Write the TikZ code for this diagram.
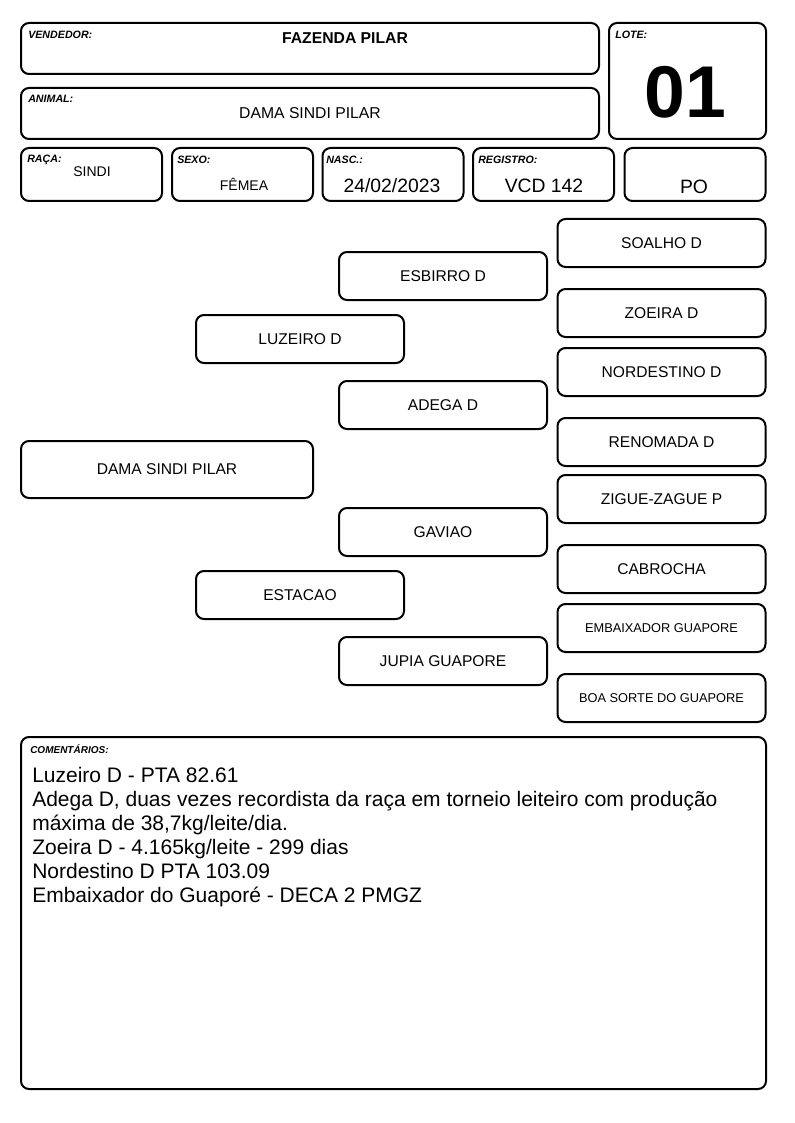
\documentclass[tikz,border=0pt]{standalone}
\usepackage{fontspec}
\setmainfont{Liberation Sans}
\begin{document}
\begin{tikzpicture}[x=0.75pt,y=-0.75pt,
  box/.style={draw,line width=1.5pt,rounded corners=6pt,inner sep=0pt},
  pbox/.style={box,minimum width=156pt,minimum height=36pt,font=\fontsize{11.7}{14}\selectfont},
  sbox/.style={pbox,font=\fontsize{9.6}{11}\selectfont},
  hbox/.style={box,minimum width=105.75pt,minimum height=39.75pt},
  lbl/.style={anchor=north west,inner sep=0pt,font=\fontsize{8}{9}\selectfont\bfseries\itshape},
  val/.style={inner sep=0pt,font=\fontsize{10.5}{12}\selectfont},
  bigval/.style={inner sep=0pt,font=\fontsize{14.5}{16}\selectfont}]
\useasboundingbox (0,0) rectangle (794,1123);
% header
\node[box,minimum width=433.5pt,minimum height=38.25pt] (vendedor) at (310,48.5) {};
\node[lbl] (lvendedor) at (28,31) {VENDEDOR:};
\node[inner sep=0pt,font=\fontsize{11.8}{14}\selectfont\bfseries] (fazenda) at (345,38) {FAZENDA PILAR};
\node[box,minimum width=117.75pt,minimum height=87pt] (lote) at (687.5,81) {};
\node[lbl] (llote) at (615,31) {LOTE:};
\node[inner sep=0pt,font=\fontsize{55}{58}\selectfont\bfseries] (nlote) at (685,92) {01};
\node[box,minimum width=433.5pt,minimum height=38.25pt] (animal) at (310,113.5) {};
\node[lbl] (lanimal) at (28,95) {ANIMAL:};
\node[inner sep=0pt,font=\fontsize{11.8}{14}\selectfont] (nanimal) at (310,113) {DAMA SINDI PILAR};
\node[hbox] (raca) at (91.5,174.5) {};
\node[lbl] (lraca) at (27,155) {RAÇA:};
\node[val] (vraca) at (92,172) {SINDI};
\node[hbox] (sexo) at (242.5,174.5) {};
\node[lbl] (lsexo) at (177,156) {SEXO:};
\node[val] (vsexo) at (244,184) {FÊMEA};
\node[hbox] (nasc) at (393,174.5) {};
\node[lbl] (lnasc) at (326,156) {NASC.:};
\node[bigval] (vnasc) at (392,186) {24/02/2023};
\node[hbox] (registro) at (543.5,174.5) {};
\node[lbl] (lregistro) at (478,156) {REGISTRO:};
\node[bigval] (vregistro) at (544,186) {VCD 142};
\node[hbox] (po) at (695,174.5) {};
\node[bigval] (vpo) at (694,187) {PO};
% pedigree
\node[pbox,minimum width=219pt,minimum height=42.75pt] (dama) at (167,469.5) {DAMA SINDI PILAR};
\node[pbox] (luzeiro) at (300,339) {LUZEIRO D};
\node[pbox] (estacao) at (300,595) {ESTACAO};
\node[pbox] (esbirro) at (443,276) {ESBIRRO D};
\node[pbox] (adega) at (443,405) {ADEGA D};
\node[pbox] (gaviao) at (443,532) {GAVIAO};
\node[pbox] (jupia) at (443,661) {JUPIA GUAPORE};
\node[pbox] (soalho) at (661.5,243) {SOALHO D};
\node[pbox] (zoeira) at (661.5,313) {ZOEIRA D};
\node[pbox] (nordestino) at (661.5,372) {NORDESTINO D};
\node[pbox] (renomada) at (661.5,442) {RENOMADA D};
\node[pbox] (zigue) at (661.5,499) {ZIGUE-ZAGUE P};
\node[pbox] (cabrocha) at (661.5,569) {CABROCHA};
\node[sbox] (embaixador) at (661.5,628) {EMBAIXADOR GUAPORE};
\node[sbox] (boasorte) at (661.5,698) {BOA SORTE DO GUAPORE};
% comentarios
\node[box,minimum width=558.75pt,minimum height=264pt] (coment) at (393.5,913) {};
\node[lbl,font=\fontsize{7.5}{9}\selectfont\bfseries\itshape] (lcoment) at (30,744) {COMENTÁRIOS:};
\node[anchor=north west,inner sep=0pt,align=left,font=\fontsize{15.75}{18}\selectfont] (tcoment) at (32,767)
  {Luzeiro D - PTA 82.61\\
   Adega D, duas vezes recordista da raça em torneio leiteiro com produção\\
   máxima de 38,7kg/leite/dia.\\
   Zoeira D - 4.165kg/leite - 299 dias\\
   Nordestino D PTA 103.09\\
   Embaixador do Guaporé - DECA 2 PMGZ};
\end{tikzpicture}
\end{document}
